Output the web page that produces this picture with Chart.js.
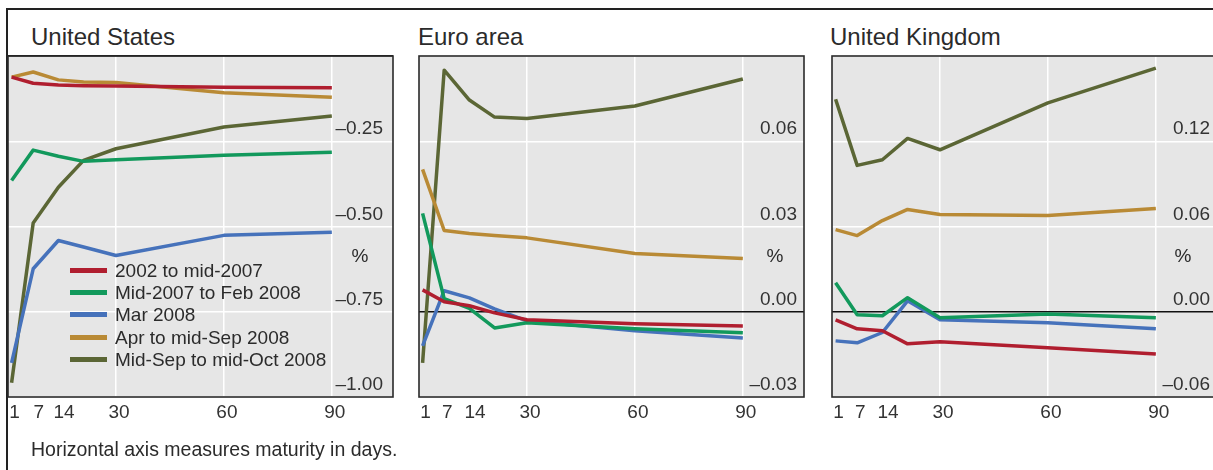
<!DOCTYPE html>
<html><head><meta charset="utf-8">
<script src="https://cdn.jsdelivr.net/npm/chart.js@4"></script>
<style>
html,body{margin:0;padding:0;background:#fff}
body{width:1213px;height:470px;overflow:hidden;position:relative;font-family:"Liberation Sans",Arial,sans-serif;color:#2b2b2b}
.abs{position:absolute;white-space:nowrap}
.title{font-size:24px;line-height:24px}
.pct{font-size:19px;line-height:19px;width:20px;text-align:center}
.lg{font-size:19px;line-height:19px}
.sw{position:absolute;width:37px;height:5px}
.wrap{position:absolute;top:40px;width:400px;height:400px}
#frame{position:absolute;left:6px;top:8px;width:1300px;height:600px;border-top:2px solid #222;border-left:2px solid #222}
</style></head><body>
<div id="frame"></div>
<div class="abs title" style="left:31px;top:25px">United States</div>
<div class="abs title" style="left:418px;top:25px">Euro area</div>
<div class="abs title" style="left:830px;top:25px">United Kingdom</div>

<div class="wrap" style="left:0px"><canvas id="us" width="400" height="400"></canvas></div>
<div class="wrap" style="left:410px"><canvas id="ea" width="400" height="400"></canvas></div>
<div class="wrap" style="left:822px"><canvas id="uk" width="400" height="400"></canvas></div>

<div class="abs pct" style="left:350px;top:246px">%</div>
<div class="abs pct" style="left:765px;top:246px">%</div>
<div class="abs pct" style="left:1173px;top:246px">%</div>

<div id="legend"></div>
<div class="abs" style="left:31px;top:439px;font-size:19.5px;line-height:20px">Horizontal axis measures maturity in days.</div>

<script>
// ---- data ----
const days = [1, 7, 14, 21, 30, 60, 90];
const xTickValues = [1, 7, 14, 30, 60, 90];
const seriesNames = ["2002 to mid-2007", "Mid-2007 to Feb 2008", "Mar 2008", "Apr to mid-Sep 2008", "Mid-Sep to mid-Oct 2008"];
const seriesColors = ["#b01e2f", "#12995c", "#4672bb", "#b98a35", "#5b6635"];

const usRed    = [-0.062, -0.080, -0.085, -0.087, -0.088, -0.092, -0.093];
const usGreen  = [-0.365, -0.276, -0.294, -0.309, -0.304, -0.291, -0.282];
const usBlue   = [-0.900, -0.624, -0.541, -0.560, -0.585, -0.526, -0.517];
const usOrange = [-0.062, -0.047, -0.070, -0.076, -0.078, -0.108, -0.121];
const usOlive  = [-0.958, -0.490, -0.385, -0.306, -0.272, -0.208, -0.176];

const eaRed    = [0.0077, 0.0035, 0.0021, -0.0004, -0.0028, -0.0042, -0.0050];
const eaGreen  = [0.0346, 0.0046, 0.0012, -0.0057, -0.0039, -0.0060, -0.0074];
const eaBlue   = [-0.0120, 0.0074, 0.0049, 0.0010, -0.0032, -0.0067, -0.0092];
const eaOrange = [0.0501, 0.0286, 0.0275, 0.0268, 0.0260, 0.0205, 0.0187];
const eaOlive  = [-0.0180, 0.0850, 0.0745, 0.0685, 0.0680, 0.0724, 0.0819];

const ukRed    = [-0.0057, -0.0120, -0.0134, -0.0226, -0.0212, -0.0254, -0.0297];
const ukGreen  = [0.0204, -0.0021, -0.0028, 0.0099, -0.0042, -0.0015, -0.0042];
const ukBlue   = [-0.0205, -0.0219, -0.0146, 0.0077, -0.0057, -0.0078, -0.0120];
const ukOrange = [0.0578, 0.0536, 0.0642, 0.0720, 0.0685, 0.0678, 0.0727];
const ukOlive  = [0.1496, 0.1030, 0.1070, 0.1220, 0.1140, 0.1470, 0.1715];

const usScale = [-1.0, 0.0, 0.25];
const eaScale = [-0.03, 0.09, 0.03];
const ukScale = [-0.06, 0.18, 0.06];

// ---- legend (HTML) ----
(function(){
  const lg = document.getElementById('legend');
  const centers = [270.5, 292.5, 314.5, 337.5, 359.5];
  seriesNames.forEach((n, i) => {
    const s = document.createElement('div');
    s.className = 'sw';
    s.style.left = '70px';
    s.style.top = (centers[i] - 2.5) + 'px';
    s.style.background = seriesColors[i];
    lg.appendChild(s);
    const t = document.createElement('div');
    t.className = 'abs lg';
    t.style.left = '115px';
    t.style.top = (centers[i] + 7 - 16.1) + 'px';
    t.textContent = n;
    lg.appendChild(t);
  });
})();

const panelPlugin = {
  id: 'panel',
  beforeDraw(chart) {
    const a = chart.chartArea, c = chart.ctx;
    c.save(); c.fillStyle = '#e6e6e6';
    c.fillRect(a.left, a.top, a.right - a.left, a.bottom - a.top);
    c.restore();
  },
  afterDraw(chart) {
    const a = chart.chartArea, c = chart.ctx;
    c.save(); c.strokeStyle = '#2a2a2a'; c.lineWidth = 1.6;
    c.strokeRect(a.left, a.top, a.right - a.left, a.bottom - a.top);
    c.restore();
  }
};

function fmt(v) {
  if (Math.abs(v) < 1e-9) return '0.00';
  return (v < 0 ? '\u2013' : '') + Math.abs(v).toFixed(2);
}

function makePanel(id, values, scale, padL, padR, labelPad, xLabels) {
  const [yMin, yMax, step] = scale;
  const datasets = values.map((vals, i) => ({
    label: seriesNames[i],
    data: days.map((d, j) => ({x: d, y: vals[j]})),
    borderColor: seriesColors[i],
    backgroundColor: seriesColors[i],
    borderWidth: 3.5,
    pointRadius: 0,
    tension: 0,
    borderJoinStyle: 'round',
    fill: false
  }));
  return new Chart(document.getElementById(id), {
    type: 'line',
    data: { datasets },
    plugins: [panelPlugin],
    options: {
      responsive: false,
      animation: false,
      devicePixelRatio: 1,
      layout: { padding: { left: padL, right: padR, top: 16, bottom: 0 } },
      plugins: { legend: { display: false }, tooltip: { enabled: false } },
      scales: {
        x: {
          type: 'linear', min: 0, max: 107,
          afterBuildTicks: ax => { ax.ticks = xTickValues.map(v => ({ value: v })); },
          afterFit: ax => { ax.height = 43; },
          border: { display: false },
          grid: {
            drawTicks: false, lineWidth: 1.5,
            color: c => ([30, 60, 90].includes(c.tick && c.tick.value) ? '#ffffff' : 'rgba(0,0,0,0)')
          },
          ticks: {
            autoSkip: false, maxRotation: 0, padding: 4, labelOffset: 3,
            color: '#333', font: { family: 'Liberation Sans, Arial, sans-serif', size: 19 },
            callback: v => (xLabels[v] !== undefined ? xLabels[v] : String(v))
          }
        },
        y: {
          type: 'linear', position: 'right', min: yMin, max: yMax,
          afterFit: ax => { ax.width = 0; },
          border: { display: false },
          grid: {
            drawTicks: false,
            lineWidth: 1.5,
            color: c => (c.tick && Math.abs(c.tick.value) < 1e-9 ? '#111111' : '#ffffff')
          },
          ticks: {
            stepSize: step, mirror: true, padding: labelPad, labelOffset: -12,
            color: '#333', font: { family: 'Liberation Sans, Arial, sans-serif', size: 19 },
            callback: v => (v >= yMax - 1e-9 ? '' : fmt(v))
          }
        }
      }
    }
  });
}

makePanel('us', [usRed, usGreen, usBlue, usOrange, usOlive], usScale, 8, 7, -10, {7: '\u00a07', 14: '\u00a014'});
makePanel('ea', [eaRed, eaGreen, eaBlue, eaOrange, eaOlive], eaScale, 9, 6, -7, {14: '\u00a014'});
makePanel('uk', [ukRed, ukGreen, ukBlue, ukOrange, ukOlive], ukScale, 10, 5, -7, {14: '\u00a014'});
</script>
</body></html>
